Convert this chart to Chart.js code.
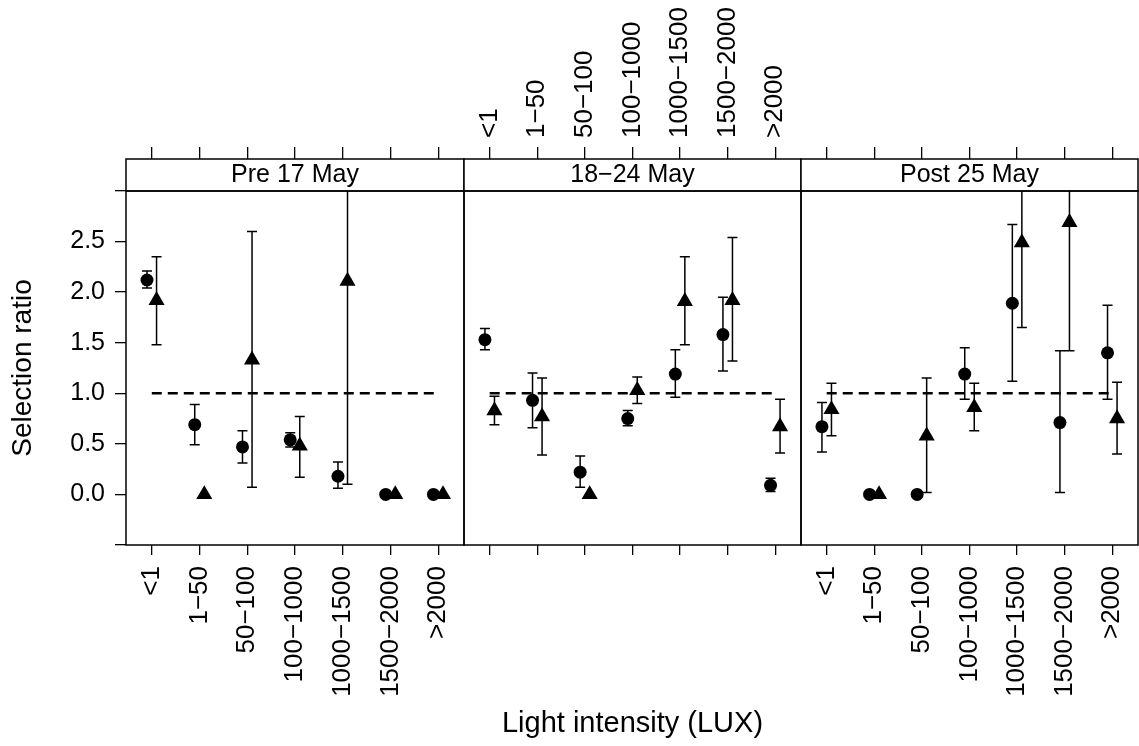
<!DOCTYPE html>
<html>
<head>
<meta charset="utf-8">
<script src="https://cdn.jsdelivr.net/npm/chart.js@4.4.0/dist/chart.umd.min.js"></script>
<style>
  body { margin: 0; background: #fff; }
  #wrap { position: relative; width: 1139px; height: 746px; }
  #wrap canvas { position: absolute; left: 0; top: 0; }
</style>
</head>
<body>
<div id="wrap">
  <canvas id="panel-0" width="1139" height="746"></canvas>
  <canvas id="panel-1" width="1139" height="746"></canvas>
  <canvas id="panel-2" width="1139" height="746"></canvas>
</div>
<script>
// Datos

let lightClasses = ["<1", "1\u221250", "50\u2212100", "100\u22121000", "1000\u22121500", "1500\u22122000", ">2000"];
let periods = ["Pre 17 May", "18\u221224 May", "Post 25 May"];
let yTicks = [-0.5, 0, 0.5, 1, 1.5, 2, 2.5, 3];
let referenceRatio = 1;

// Circulos (pre / 18-24 / post)
let circlePre = [2.12, 0.69, 0.47, 0.54, 0.18, 0, 0];
let circlePreLow = [2.04, 0.49, 0.31, 0.47, 0.06, null, null];
let circlePreHigh = [2.21, 0.89, 0.63, 0.61, 0.32, null, null];

let circleMid = [1.53, 0.93, 0.22, 0.75, 1.19, 1.58, 0.09];
let circleMidLow = [1.43, 0.66, 0.07, 0.68, 0.96, 1.22, 0.03];
let circleMidHigh = [1.64, 1.2, 0.38, 0.83, 1.43, 1.95, 0.16];

let circlePost = [0.67, 0, 0, 1.19, 1.89, 0.71, 1.4];
let circlePostLow = [0.42, null, null, 0.94, 1.12, 0.02, 0.94];
let circlePostHigh = [0.91, null, null, 1.45, 2.67, 1.42, 1.87];

// Triangulos
let trianglePre = [1.92, 0, 1.33, 0.48, 2.11, 0, 0];
let trianglePreLow = [1.48, null, 0.07, 0.17, 0.1, null, null];
let trianglePreHigh = [2.35, null, 2.6, 0.77, 3.6, null, null];

let triangleMid = [0.83, 0.77, 0, 1.03, 1.91, 1.92, 0.67];
let triangleMidLow = [0.69, 0.39, null, 0.9, 1.48, 1.32, 0.41];
let triangleMidHigh = [0.97, 1.15, null, 1.16, 2.35, 2.54, 0.94];

let trianglePost = [0.84, 0, 0.58, 0.86, 2.49, 2.69, 0.75];
let trianglePostLow = [0.58, null, 0.02, 0.63, 1.65, 1.42, 0.4];
let trianglePostHigh = [1.1, null, 1.15, 1.1, 3.6, 3.6, 1.11];

let circles = [circlePre, circleMid, circlePost];
let circlesLow = [circlePreLow, circleMidLow, circlePostLow];
let circlesHigh = [circlePreHigh, circleMidHigh, circlePostHigh];
let triangles = [trianglePre, triangleMid, trianglePost];
let trianglesLow = [trianglePreLow, triangleMidLow, trianglePostLow];
let trianglesHigh = [trianglePreHigh, triangleMidHigh, trianglePostHigh];

// Layout

let panelEdges = [126, 464, 801, 1138];
let fontFamily = "'Liberation Sans', Arial, Helvetica, sans-serif";

Chart.defaults.font.family = fontFamily;
Chart.defaults.color = "#000";

function points(values, low, high, shift) {
  return values.map((v, k) => ({ x: k + 1 + shift, y: v, low: low[k], high: high[k] }));
}

// Barras de error

let errorBars = {
  id: "errorBars",
  beforeDatasetsDraw(chart) {
    let ctx = chart.ctx;
    let area = chart.chartArea;
    let yScale = chart.scales.y;
    ctx.save();
    ctx.beginPath();
    ctx.rect(area.left, area.top, area.right - area.left, area.bottom - area.top);
    ctx.clip();
    ctx.strokeStyle = "#000";
    ctx.lineWidth = 1.5;
    chart.data.datasets.forEach((dataset, d) => {
      let meta = chart.getDatasetMeta(d);
      dataset.data.forEach((point, k) => {
        if (point.low == null || point.high == null) return;
        let x = meta.data[k].x;
        let top = yScale.getPixelForValue(point.high);
        let bottom = yScale.getPixelForValue(point.low);
        ctx.beginPath();
        ctx.moveTo(x, top);
        ctx.lineTo(x, bottom);
        ctx.moveTo(x - 5, top);
        ctx.lineTo(x + 5, top);
        ctx.moveTo(x - 5, bottom);
        ctx.lineTo(x + 5, bottom);
        ctx.stroke();
      });
    });
    ctx.restore();
  },
};

// Marco y tira de titulo

let panelFrame = {
  id: "panelFrame",
  afterDraw(chart, args, opts) {
    let ctx = chart.ctx;
    let a = chart.chartArea;
    ctx.save();
    ctx.lineWidth = 1.5;
    ctx.strokeStyle = "#000";
    ctx.fillStyle = "#fff";
    ctx.fillRect(a.left, a.top - 32, a.width, 32);
    ctx.strokeRect(a.left, a.top - 32, a.width, 32);
    ctx.strokeRect(a.left, a.top, a.width, a.height);
    ctx.fillStyle = "#000";
    ctx.font = "25px " + fontFamily;
    ctx.textAlign = "center";
    ctx.textBaseline = "middle";
    ctx.fillText(opts.title, (a.left + a.right) / 2, a.top - 16);
    ctx.restore();
  },
};

function categoryTicks(axis) {
  axis.ticks = lightClasses.map((c, k) => ({ value: k + 1 }));
}

// Alto fijo y sin relleno lateral para que los paneles queden alineados
function fixHeight(height) {
  return (axis) => {
    axis.height = height;
    axis.paddingLeft = 0;
    axis.paddingRight = 0;
  };
}

function makePanel(i) {
  let left = panelEdges[i];
  let right = panelEdges[i + 1];
  let canvas = document.getElementById(`panel-${i}`);

  return new Chart(canvas.getContext("2d"), {
    type: "scatter",
    data: {
      datasets: [
        {
          label: "circle",
          data: points(circles[i], circlesLow[i], circlesHigh[i], -0.1),
          pointStyle: "circle",
          pointRadius: 6.5,
          backgroundColor: "#000",
          borderWidth: 0,
        },
        {
          label: "triangle",
          data: points(triangles[i], trianglesLow[i], trianglesHigh[i], 0.1),
          pointStyle: "triangle",
          pointRadius: 9.3,
          backgroundColor: "#000",
          borderWidth: 0,
        },
        {
          type: "line",
          label: "reference",
          data: [
            { x: 1, y: referenceRatio },
            { x: lightClasses.length, y: referenceRatio },
          ],
          borderColor: "#000",
          borderWidth: 2.6,
          borderDash: [10, 6],
          pointRadius: 0,
          fill: false,
        },
      ],
    },
    options: {
      responsive: false,
      animation: false,
      devicePixelRatio: 1,
      layout: {
        autoPadding: false,
        padding: { left: i === 0 ? 0 : left, right: 1139 - right, top: 0, bottom: 0 },
      },
      plugins: {
        legend: { display: false },
        tooltip: { enabled: false },
        panelFrame: { title: periods[i] },
      },
      scales: {
        x: {
          type: "linear",
          position: "bottom",
          min: 0.46,
          max: 7.54,
          afterBuildTicks: categoryTicks,
          afterFit: fixHeight(201),
          grid: { drawOnChartArea: false, tickLength: 10, color: "#000", lineWidth: 1.3 },
          border: { display: false },
          ticks: {
            display: i !== 1,
            autoSkip: false,
            minRotation: 90,
            maxRotation: 90,
            padding: 11,
            font: { size: 26 },
            callback: (value, index) => lightClasses[index],
          },
          title: {
            display: i === 1,
            text: "Light intensity (LUX)",
            font: { size: 29 },
            padding: { top: 0, bottom: 5 },
          },
        },
        xTop: {
          type: "linear",
          position: "top",
          min: 0.46,
          max: 7.54,
          afterBuildTicks: categoryTicks,
          afterFit: fixHeight(191),
          grid: { drawOnChartArea: false, tickLength: 44, color: "#000", lineWidth: 1.3 },
          border: { display: false },
          ticks: {
            display: i === 1,
            autoSkip: false,
            minRotation: 90,
            maxRotation: 90,
            padding: 9,
            labelOffset: 31.2,
            font: { size: 26 },
            callback: (value, index) => lightClasses[index],
          },
        },
        y: {
          type: "linear",
          display: i === 0,
          min: -0.5,
          max: 3,
          afterBuildTicks: (axis) => {
            axis.ticks = yTicks.map((v) => ({ value: v }));
          },
          afterFit: (axis) => {
            axis.width = i === 0 ? 126 : 0;
          },
          grid: { drawOnChartArea: false, tickLength: 11, color: "#000", lineWidth: 1.3 },
          border: { display: false },
          ticks: {
            padding: 10,
            font: { size: 25 },
            callback: (value) => (value < 0 || value > 2.75 ? "" : value.toFixed(1)),
          },
          title: {
            display: true,
            text: "Selection ratio",
            font: { size: 28 },
            padding: { top: 6, bottom: 0 },
          },
        },
      },
    },
    plugins: [errorBars, panelFrame],
  });
}

let charts = [0, 1, 2].map(makePanel);
</script>
</body>
</html>
